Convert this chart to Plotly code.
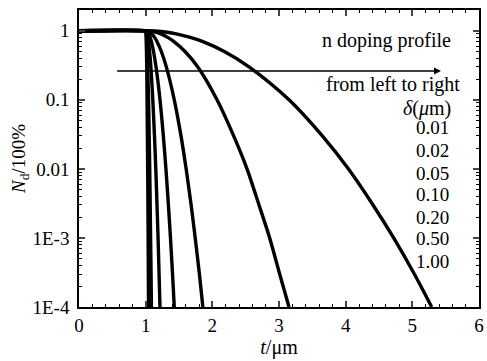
import plotly.graph_objects as go

# Read-off values: relative doping N_d (fraction) at each depth t (um)
N_vals = [1, 1, 0.99, 0.95, 0.9, 0.8, 0.7, 0.5, 0.3, 0.1, 0.03, 0.01, 0.003, 0.001, 3e-4, 1e-4]
t_d001 = [0, 1, 1.001, 1.003, 1.005, 1.007, 1.008, 1.012, 1.016, 1.021, 1.026, 1.030, 1.034, 1.037, 1.040, 1.043]
t_d002 = [0, 1, 1.003, 1.006, 1.009, 1.013, 1.017, 1.024, 1.031, 1.043, 1.053, 1.061, 1.068, 1.074, 1.081, 1.086]
t_d005 = [0, 1, 1.007, 1.016, 1.023, 1.033, 1.042, 1.059, 1.078, 1.107, 1.132, 1.152, 1.170, 1.186, 1.201, 1.215]
t_d010 = [0, 1, 1.014, 1.032, 1.046, 1.067, 1.085, 1.118, 1.155, 1.215, 1.265, 1.304, 1.341, 1.372, 1.403, 1.429]
t_d020 = [0, 1, 1.028, 1.064, 1.092, 1.134, 1.169, 1.235, 1.310, 1.429, 1.530, 1.607, 1.682, 1.743, 1.806, 1.858]
t_d050 = [0, 1, 1.07, 1.16, 1.23, 1.33, 1.42, 1.59, 1.78, 2.07, 2.32, 2.52, 2.70, 2.86, 3.01, 3.15]
t_d100 = [0, 1, 1.14, 1.32, 1.46, 1.67, 1.85, 2.18, 2.55, 3.15, 3.65, 4.04, 4.41, 4.72, 5.03, 5.29]

deltas = ["0.01", "0.02", "0.05", "0.10", "0.20", "0.50", "1.00"]
t_series = [t_d001, t_d002, t_d005, t_d010, t_d020, t_d050, t_d100]

y_tickvals = [1e-4, 1e-3, 0.01, 0.1, 1]
y_ticktext = ["1E-4", "1E-3", "0.01", "0.1", "1"]
x_tickvals = [0, 1, 2, 3, 4, 5, 6]

FONT = "'Liberation Serif', 'Times New Roman', Times, serif"

fig = go.Figure()
for d, t in zip(deltas, t_series):
    fig.add_trace(go.Scatter(x=t, y=N_vals, mode="lines", name=d,
                             line=dict(color="black", width=3.4, shape="spline", smoothing=0.8),
                             showlegend=False))

y_minor = []
for e in range(-4, 1):
    for m in range(2, 10):
        v = m * 10 ** e
        if v < 2.0:
            y_minor.append(v)
x_minor = [i * 0.2 for i in range(31)]

fig.update_layout(
    width=487, height=361,
    margin=dict(l=79, r=3, t=10, b=54),
    paper_bgcolor="white", plot_bgcolor="white",
    font=dict(family=FONT, size=19, color="black"),
    xaxis=dict(range=[0, 6], tickvals=x_tickvals, ticks="inside", ticklen=6,
               tickwidth=1.5, showline=True, linewidth=1.5, linecolor="black",
               mirror="ticks", showgrid=False, zeroline=False,
               minor=dict(tickvals=x_minor, ticks="inside", ticklen=3, tickwidth=1.2,
                          tickcolor="black", showgrid=False),
               title=dict(text="<i>t</i>/μm", standoff=2, font=dict(family=FONT, size=20)),
               tickfont=dict(family=FONT, size=19)),
    yaxis=dict(type="log", range=[-4, 0.3], tickvals=y_tickvals, ticktext=y_ticktext,
               ticks="inside", ticklen=6, tickwidth=1.5, showline=True, linewidth=1.5,
               linecolor="black", mirror="ticks", showgrid=False, zeroline=False,
               ticklabelstandoff=4,
               minor=dict(tickvals=y_minor, ticks="inside", ticklen=3, tickwidth=1.2,
                          tickcolor="black", showgrid=False),
               title=dict(text="<i>N</i><sub>d</sub>/100%", standoff=2, font=dict(family=FONT, size=19)),
               tickfont=dict(family=FONT, size=19)),
)

def py(p):
    return (307 - p) / 297.0

txt_font = dict(family=FONT, size=20, color="black")
num_font = dict(family=FONT, size=19, color="black")
fig.add_annotation(xref="paper", yref="paper", x=0.936, y=py(40), text="n doping profile",
                   showarrow=False, xanchor="right", yanchor="middle", font=txt_font)
fig.add_annotation(xref="paper", yref="paper", x=0.958, y=py(85), text="from left to right",
                   showarrow=False, xanchor="right", yanchor="middle", font=txt_font)
fig.add_annotation(xref="paper", yref="paper", x=0.936, y=py(108), text="<i>δ</i>(<i>μ</i>m)",
                   showarrow=False, xanchor="right", yanchor="middle", font=txt_font)
rows = [128, 150, 173, 195, 217, 239, 261]
for d, r in zip(deltas, rows):
    fig.add_annotation(xref="paper", yref="paper", x=0.884, y=py(r), text=d,
                       showarrow=False, xanchor="center", yanchor="middle", font=num_font)

# horizontal arrow
fig.add_annotation(xref="x", yref="paper", x=5.43, y=py(71), axref="x", ayref="pixel",
                   ax=0.55, ay=0, text="", showarrow=True, arrowhead=2, arrowsize=1,
                   arrowwidth=1.4, arrowcolor="black")

fig.write_html("out.html")
